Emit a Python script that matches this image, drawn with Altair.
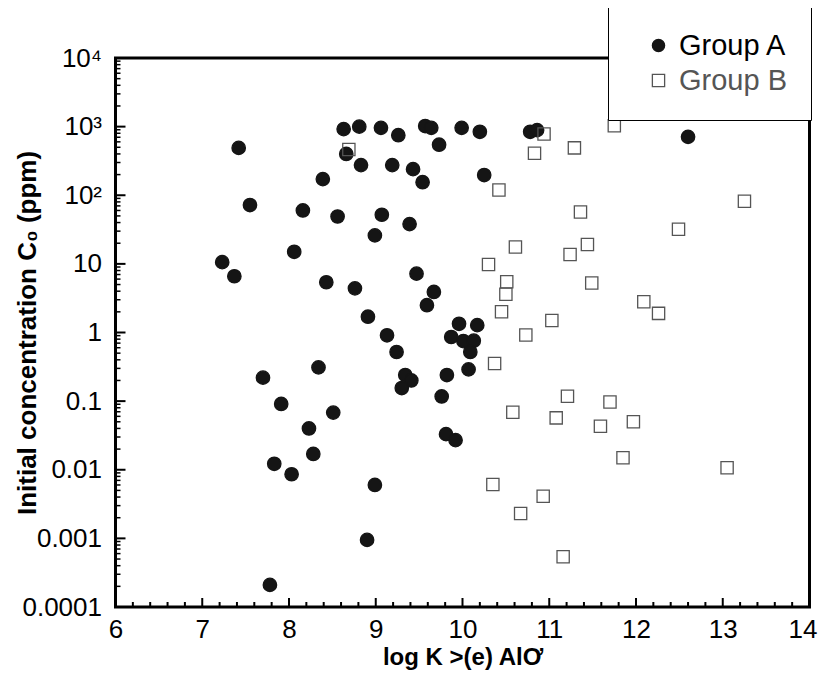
import altair as alt
import pandas as pd
import numpy as np

groups = ["Group A", "Group B"]

a_x = [7.42, 8.63, 8.81, 9.06, 9.26, 8.66, 8.83, 9.19, 9.43, 9.54, 8.39, 7.55, 8.16, 8.56, 9.07,
       9.39, 8.99, 8.06, 7.23, 7.37, 8.43, 8.76, 9.47, 8.91, 9.13, 9.24, 8.34, 7.70, 9.34, 9.41,
       9.30, 7.91, 8.51, 8.23, 8.28, 7.83, 8.03, 8.99, 8.90, 7.78, 9.57, 9.64, 9.99, 10.20, 9.73,
       10.25, 10.78, 10.86, 9.67, 9.59, 9.96, 10.17, 9.87, 10.01, 10.13, 10.09, 10.07, 9.82, 9.76,
       9.81, 9.92, 12.60]
a_y = [490, 920, 1000, 960, 750, 400, 275, 275, 240, 155, 172, 72, 60, 49, 52,
       38, 26, 15, 10.6, 6.6, 5.4, 4.4, 7.2, 1.7, 0.91, 0.52, 0.31, 0.22, 0.24, 0.2,
       0.155, 0.091, 0.068, 0.040, 0.017, 0.0122, 0.0086, 0.006, 0.00095, 0.00021, 1020, 960, 960, 840, 545,
       197, 840, 890, 3.9, 2.5, 1.34, 1.28, 0.86, 0.75, 0.76, 0.52, 0.29, 0.24, 0.117,
       0.033, 0.027, 710]

b_x = [8.69, 10.94, 10.83, 11.29, 11.75, 10.42, 11.36, 10.61, 11.44, 11.24, 10.30, 11.49, 10.51,
       10.50, 10.45, 11.03, 10.73, 10.37, 11.21, 11.70, 10.58, 11.08, 11.59, 11.97, 11.85, 13.05,
       10.35, 10.93, 10.67, 11.16, 13.25, 12.49, 12.09, 12.26]
b_y = [465, 780, 410, 490, 1030, 119, 57, 17.6, 19.2, 13.7, 9.8, 5.25, 5.5,
       3.6, 2.0, 1.5, 0.92, 0.354, 0.118, 0.097, 0.069, 0.057, 0.043, 0.05, 0.015, 0.0107,
       0.0061, 0.0041, 0.0023, 0.00054, 82, 32, 2.8, 1.9]

x_ticks = [6, 7, 8, 9, 10, 11, 12, 13, 14]
y_ticks = [0.0001, 0.001, 0.01, 0.1, 1, 10, 100, 1000, 10000]
y_tick_labels = ["0.0001", "0.001", "0.01", "0.1", "1", "10", "10²", "10³", "10⁴"]

x_minor = [round(v, 1) for v in np.arange(6.0, 14.01, 0.2) if abs(v - round(v)) > 1e-6]
y_minor = [m * 10.0 ** e for e in range(-4, 4) for m in range(2, 10)]

df = pd.DataFrame({
    "x": a_x + b_x,
    "y": a_y + b_y,
    "group": [groups[0]] * len(a_x) + [groups[1]] * len(b_x),
})

W, H = 694, 549
FONT = "Liberation Sans"

xscale = alt.Scale(domain=[6, 14], nice=False, zero=False)
yscale = alt.Scale(type="log", domain=[0.0001, 10000], nice=False)

label_js = "[" + ",".join("'" + s + "'" for s in y_tick_labels) + "]"

points = alt.Chart(df).mark_point(opacity=1, strokeWidth=1.3).encode(
    x=alt.X("x:Q", scale=xscale, axis=alt.Axis(
        values=x_ticks, ticks=False, domain=False, grid=False, labelFontSize=26,
        labelFont=FONT, labelColor="#000", labelPadding=9, format="d", labelFlush=False,
        labelOffset=alt.ExprRef(expr="datum.value == 14 ? -7 : 0"),
        title="log K >(e) AlƠ", titleFont=FONT, titleFontSize=24, titleFontWeight="bold",
        titleColor="#000", titleX=W / 2, titleY=50, titleBaseline="middle")),
    y=alt.Y("y:Q", scale=yscale, axis=alt.Axis(
        values=y_ticks, ticks=False, domain=False, grid=False, labelFontSize=26,
        labelFont=FONT, labelColor="#000", labelPadding=14, labelFlush=False,
        labelExpr=label_js + "[round(log(datum.value)/LN10)+4]",
        title="Initial concentration C₀ (ppm)", titleFont=FONT, titleFontSize=26,
        titleFontWeight="bold", titleColor="#000", titleX=-88, titleY=H / 2,
        titleBaseline="middle", titleAngle=270)),
    shape=alt.Shape("group:N", scale=alt.Scale(domain=groups, range=["circle", "square"]),
                    legend=alt.Legend(
                        title=None, orient="none", legendX=492.5, legendY=-51,
                        fillColor="white", strokeColor="#000", padding=24,
                        symbolOffset=12, labelOffset=6, rowPadding=5, symbolSize=150,
                        symbolStrokeWidth=1.3, labelFont=FONT, labelFontSize=29,
                        labelColor=alt.ExprRef(expr="datum.label == 'Group B' ? '#555555' : '#000000'"))),
    fill=alt.Fill("group:N", scale=alt.Scale(domain=groups, range=["#151515", "transparent"])),
    stroke=alt.Stroke("group:N", scale=alt.Scale(domain=groups, range=["#151515", "#555555"])),
    size=alt.condition(alt.datum.group == "Group A", alt.value(180), alt.value(150)),
)

xmaj = alt.Chart(pd.DataFrame({"x": x_ticks})).mark_rule(color="#000", strokeWidth=2).encode(
    x=alt.X("x:Q", scale=xscale), y=alt.value(H), y2=alt.value(H - 9))
xmin = alt.Chart(pd.DataFrame({"x": x_minor})).mark_rule(color="#000", strokeWidth=2).encode(
    x=alt.X("x:Q", scale=xscale), y=alt.value(H), y2=alt.value(H - 5))
ymaj = alt.Chart(pd.DataFrame({"y": y_ticks})).mark_rule(color="#000", strokeWidth=2).encode(
    y=alt.Y("y:Q", scale=yscale), x=alt.value(0), x2=alt.value(10))
ymin = alt.Chart(pd.DataFrame({"y": y_minor})).mark_rule(color="#000", strokeWidth=1.5).encode(
    y=alt.Y("y:Q", scale=yscale), x=alt.value(0), x2=alt.value(5))

chart = alt.layer(xmaj, xmin, ymaj, ymin, points).properties(
    width=W, height=H, autosize="none",
    padding={"left": 107.5, "top": 50, "right": 8, "bottom": 64},
    background="white",
).configure_view(stroke="#000", strokeWidth=3)

chart.save("out.html", embed_options={"renderer": "svg", "actions": False})
